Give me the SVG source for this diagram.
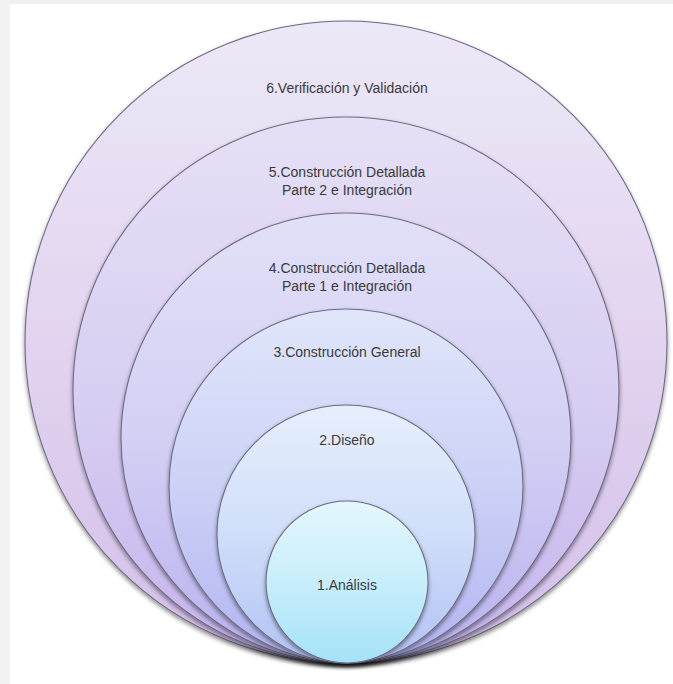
<svg xmlns="http://www.w3.org/2000/svg" width="673" height="684" viewBox="0 0 673 684">
<style>
.c{stroke:#6e6a80;stroke-width:1.1;filter:url(#sh)}
.t{font-family:"Liberation Sans",Arial,sans-serif;font-size:14px;fill:#3a3a3a;text-anchor:middle}
</style>
<defs>
<filter id="sh" x="-10%" y="-10%" width="120%" height="125%">
<feDropShadow dx="0" dy="2.5" stdDeviation="2" flood-color="#000" flood-opacity="0.45"/>
</filter>
<linearGradient id="g6" x1="0" y1="0" x2="0" y2="1"><stop offset="0" stop-color="#ede8f7"/><stop offset="0.5" stop-color="#e2d4f0"/><stop offset="1" stop-color="#d3bfe9"/></linearGradient>
<linearGradient id="g5" x1="0" y1="0" x2="0" y2="1"><stop offset="0" stop-color="#e6e0f6"/><stop offset="0.5" stop-color="#d9cff2"/><stop offset="1" stop-color="#c4b4ec"/></linearGradient>
<linearGradient id="g4" x1="0" y1="0" x2="0" y2="1"><stop offset="0" stop-color="#e2e0f8"/><stop offset="0.5" stop-color="#d3d0f4"/><stop offset="1" stop-color="#b9b2ef"/></linearGradient>
<linearGradient id="g3" x1="0" y1="0" x2="0" y2="1"><stop offset="0" stop-color="#e0e6fa"/><stop offset="0.5" stop-color="#ccd2f6"/><stop offset="1" stop-color="#b2b4f1"/></linearGradient>
<linearGradient id="g2" x1="0" y1="0" x2="0" y2="1"><stop offset="0" stop-color="#e6effc"/><stop offset="0.5" stop-color="#d0def9"/><stop offset="1" stop-color="#b2c2f4"/></linearGradient>
<linearGradient id="g1" x1="0" y1="0" x2="0" y2="1"><stop offset="0" stop-color="#e4f7fd"/><stop offset="0.5" stop-color="#c8eefb"/><stop offset="1" stop-color="#a4e2f8"/></linearGradient>
</defs>
<rect width="673" height="684" fill="#ffffff"/>
<rect x="0" y="0" width="673" height="4" fill="#f0f0f0"/>
<rect x="0" y="0" width="10" height="684" fill="#f2f2f2"/>
<g id="n6"><circle class="c" cx="346" cy="342" r="321" fill="url(#g6)"/><text class="t" x="347" y="93">6.Verificación y Validación</text></g>
<g id="n5"><circle class="c" cx="346" cy="390" r="273" fill="url(#g5)"/><text class="t" x="347" y="177">5.Construcción Detallada</text><text class="t" x="347" y="195">Parte 2 e Integración</text></g>
<g id="n4"><circle class="c" cx="346" cy="438" r="225" fill="url(#g4)"/><text class="t" x="347" y="273">4.Construcción Detallada</text><text class="t" x="347" y="291">Parte 1 e Integración</text></g>
<g id="n3"><circle class="c" cx="346" cy="486" r="177" fill="url(#g3)"/><text class="t" x="347" y="357">3.Construcción General</text></g>
<g id="n2"><circle class="c" cx="346" cy="534" r="129" fill="url(#g2)"/><text class="t" x="347" y="445">2.Diseño</text></g>
<g id="n1"><circle class="c" cx="347" cy="582" r="81" fill="url(#g1)"/><text class="t" x="347" y="590">1.Análisis</text></g>
<g id="connectors"/>
</svg>
